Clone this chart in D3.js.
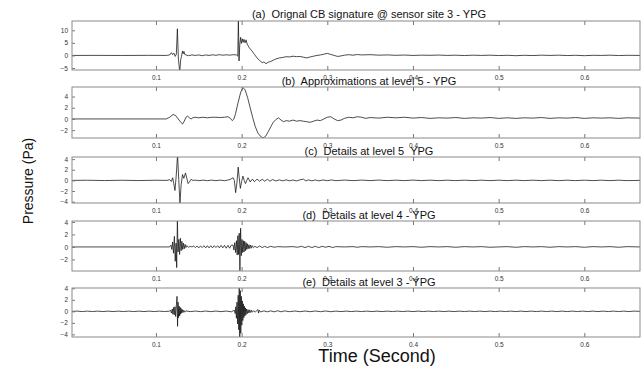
<!DOCTYPE html>
<html>
<head>
<meta charset="utf-8">
<script src="https://cdn.jsdelivr.net/npm/d3@7/dist/d3.min.js"></script>
<style>
  body { margin: 0; background: #fff; }
  svg { display: block; font-family: Arial, "Liberation Sans", sans-serif; }
</style>
</head>
<body>
<div id="chart"></div>
<script>
// ---- data ----
const titles = [
  '(a)  Orignal CB signature @ sensor site 3 - YPG',
  '(b)  Approximations at level 5 - YPG',
  '(c)  Details at level 5  YPG',
  '(d)  Details at level 4 - YPG',
  '(e)  Details at level 3 - YPG'
];
const xTicks = [0.1, 0.2, 0.3, 0.4, 0.5, 0.6];
const yTicksA = [-5, 0, 5, 10];
const yTicksB = [-2, 0, 2, 4];
const yTicksC = [-4, -2, 0, 2, 4];
const yTicksD = [-2, 0, 2, 4];
const yTicksE = [-4, -2, 0, 2, 4];

// [time (s), pressure (Pa)]
const sigA = [
  [0.002,0],[0.03,0.02],[0.06,-0.02],[0.09,0.03],[0.112,0],[0.116,0.2],[0.118,1.1],[0.1195,0.3],[0.121,0.9],
  [0.1225,-0.4],[0.1238,0.5],[0.125,10.6],[0.1262,-1.5],[0.1278,-6.6],[0.1288,-1.8],[0.1298,-0.4],[0.131,1.7],
  [0.1318,0.7],[0.1327,1.6],[0.1336,0.4],[0.135,0.2],[0.138,-0.1],[0.142,0.2],[0.146,0],[0.15,0.2],[0.154,-0.1],
  [0.158,0.2],[0.162,0],[0.166,0.25],[0.17,0.05],[0.174,0.3],[0.178,0.1],[0.182,0.25],[0.186,0.1],[0.19,0.3],
  [0.194,0.2],[0.1955,-0.3],[0.1962,14.5],[0.197,-2.2],[0.1978,4],[0.1988,7.2],[0.1998,4.8],[0.2008,6.6],
  [0.2018,5.2],[0.2028,6.4],[0.204,5],[0.2052,6.2],[0.2065,4.5],[0.209,3],[0.212,1.8],[0.215,0.4],[0.218,-1],
  [0.221,-2],[0.224,-2.9],[0.226,-2.6],[0.2285,-3.3],[0.231,-2.7],[0.234,-2.4],[0.237,-1.9],[0.24,-1.4],
  [0.244,-1],[0.248,-0.8],[0.252,-0.5],[0.256,-0.6],[0.26,-0.3],[0.264,-0.5],[0.268,-0.4],[0.272,-0.7],
  [0.276,-1],[0.28,-0.6],[0.284,-0.3],[0.288,0],[0.292,0.2],[0.296,0.5],[0.3,0.8],[0.304,0.4],[0.308,0],
  [0.312,-0.4],[0.316,-0.2],[0.32,0.1],[0.325,0.3],[0.33,0.1],[0.335,0.35],[0.34,0.2],[0.35,0.3],[0.36,0.1],
  [0.37,0.2],[0.38,0.05],[0.39,0.15],[0.4,0],[0.41,0.1],[0.42,0.05],[0.43,0.15],[0.44,0],[0.45,0.1],
  [0.46,-0.05],[0.47,0.1],[0.48,0],[0.49,0.1],[0.5,-0.05],[0.51,0.05],[0.52,-0.1],[0.53,0.05],[0.54,-0.05],
  [0.55,0.1],[0.56,0],[0.57,0.1],[0.58,-0.05],[0.59,0.05],[0.6,-0.1],[0.61,0.05],[0.62,0],[0.63,0.1],
  [0.64,-0.05],[0.65,0.05],[0.665,0]
];

const sigB = [
  [0.002,0],[0.05,0],[0.1,0],[0.112,0],[0.116,0.3],[0.12,0.8],[0.123,0.6],[0.126,0],[0.129,-0.6],[0.131,-0.9],
  [0.133,-0.4],[0.135,0.3],[0.137,0.5],[0.139,0.2],[0.141,0],[0.143,0.2],[0.146,0.3],[0.15,0.2],[0.155,0.3],
  [0.16,0.2],[0.165,0.3],[0.17,0.3],[0.175,0.25],[0.18,0.3],[0.184,0.4],[0.187,0.1],[0.189,-0.3],[0.191,0],
  [0.193,1],[0.196,3],[0.199,4.8],[0.2015,5.6],[0.204,5.2],[0.207,3.8],[0.21,2],[0.213,0.2],[0.216,-1.4],
  [0.219,-2.5],[0.222,-3.1],[0.225,-3.4],[0.228,-3.1],[0.231,-2.3],[0.234,-1.4],[0.237,-0.6],[0.24,-0.1],
  [0.243,0.2],[0.246,-0.2],[0.249,-0.5],[0.252,-0.3],[0.256,-0.4],[0.26,-0.2],[0.264,-0.4],[0.268,-0.3],
  [0.272,-0.4],[0.276,-0.5],[0.28,-0.6],[0.284,-0.4],[0.288,-0.2],[0.292,-0.3],[0.296,0],[0.3,0.3],
  [0.304,0.4],[0.308,0],[0.312,-0.3],[0.316,-0.2],[0.32,0.1],[0.325,0.3],[0.33,0.2],[0.335,0.4],[0.34,0.3],
  [0.345,0.1],[0.35,0.25],[0.36,0.15],[0.37,0.3],[0.38,0.2],[0.39,0.3],[0.4,0.15],[0.41,0.25],[0.42,0.1],
  [0.43,0.2],[0.44,0.15],[0.45,0.25],[0.46,0.1],[0.47,0.2],[0.48,0.15],[0.49,0.25],[0.5,0.1],[0.51,0.2],
  [0.52,0.1],[0.53,0.2],[0.54,0.15],[0.55,0.25],[0.56,0.1],[0.57,0.2],[0.58,0.15],[0.59,0.25],[0.6,0.1],
  [0.61,0.2],[0.62,0.15],[0.63,0.2],[0.64,0.1],[0.65,0.2],[0.665,0.15]
];

const sigC = [
  [0.002,0],[0.02,0.03],[0.04,-0.03],[0.06,0.03],[0.08,-0.03],[0.1,0.03],[0.113,0],[0.116,0.15],[0.118,-0.2],
  [0.1195,0.5],[0.1208,-0.6],[0.1222,-1.9],[0.1236,0.8],[0.1252,4.8],[0.1266,0.2],[0.128,-4.3],[0.1294,-0.8],
  [0.131,1.1],[0.1325,0.4],[0.1345,1.4],[0.136,0.4],[0.1375,-0.6],[0.139,-0.3],[0.141,0.2],[0.143,0],
  [0.146,0.05],[0.15,-0.05],[0.155,0.05],[0.16,-0.05],[0.165,0.05],[0.17,-0.05],[0.175,0.05],[0.18,-0.05],
  [0.185,0.1],[0.188,0.3],[0.19,0.5],[0.1915,0],[0.193,-2.3],[0.1945,-0.5],[0.196,2.5],[0.1972,0.5],
  [0.1985,-1.5],[0.2,-0.2],[0.2015,0.8],[0.203,0],[0.2045,-0.6],[0.206,0],[0.2075,0.5],[0.21,-0.3],
  [0.2125,0.25],[0.215,-0.25],[0.218,0.25],[0.221,-0.15],[0.224,0.2],[0.227,-0.15],[0.23,0.2],[0.233,-0.15],
  [0.236,0.15],[0.24,-0.1],[0.244,0.1],[0.248,-0.08],[0.252,0.1],[0.256,-0.08],[0.26,0.08],[0.264,-0.1],
  [0.268,0.1],[0.272,0.25],[0.275,-0.1],[0.278,0.1],[0.282,-0.08],[0.286,0.08],[0.29,-0.08],[0.295,0.08],
  [0.3,-0.05],[0.305,0.08],[0.31,-0.05],[0.32,0.06],[0.33,-0.04],[0.34,0.06],[0.35,-0.04],[0.36,0.06],
  [0.37,-0.04],[0.38,0.04],[0.39,-0.04],[0.4,0.06],[0.41,-0.04],[0.42,0.04],[0.43,-0.04],[0.44,0.04],
  [0.45,-0.04],[0.46,0.04],[0.47,-0.04],[0.48,0.04],[0.49,-0.04],[0.5,0.04],[0.51,-0.04],[0.52,0.04],
  [0.53,-0.04],[0.54,0.04],[0.55,-0.04],[0.56,0.04],[0.57,-0.04],[0.58,0.04],[0.59,-0.04],[0.6,0.04],
  [0.61,-0.04],[0.62,0.04],[0.63,-0.04],[0.64,0.04],[0.65,-0.04],[0.665,0]
];

const sigD = [
  [0.002,0],[0.116,0],[0.1175,0.3],[0.1185,-0.4],[0.1195,0.8],[0.1205,-1],[0.1215,1.7],[0.1225,-2.3],
  [0.1235,0.6],[0.1242,-3.3],[0.125,4.3],[0.1258,-0.8],[0.1267,1.2],[0.1276,-1.2],[0.1285,1.4],[0.1294,-0.6],
  [0.1303,0.9],[0.1312,-0.4],[0.1321,0.6],[0.133,-0.3],[0.134,0.4],[0.135,-0.1],[0.136,0.2],[0.138,-0.05],
  [0.14,0.1],[0.142,0],[0.144,0.15],[0.146,-0.1],[0.148,0.15],[0.15,-0.15],[0.152,0.15],[0.154,-0.1],
  [0.156,0.2],[0.158,-0.15],[0.16,0.2],[0.162,-0.15],[0.164,0.2],[0.166,-0.15],[0.168,0.2],[0.17,-0.1],
  [0.172,0.2],[0.174,-0.15],[0.176,0.25],[0.178,-0.15],[0.18,0.25],[0.182,-0.2],[0.184,0.25],[0.186,-0.2],
  [0.188,0.3],[0.19,0.3],[0.191,-0.5],[0.192,0.7],[0.193,-0.9],[0.194,1],[0.1948,-1.3],[0.1956,1.8],
  [0.1964,-1.2],[0.1972,2.2],[0.198,-3.8],[0.1988,3],[0.1996,-1.4],[0.2004,1.2],[0.2012,-0.9],[0.202,1],
  [0.2028,-0.8],[0.2036,0.9],[0.2044,-0.6],[0.2052,0.7],[0.206,-0.4],[0.2068,0.5],[0.2076,-0.3],
  [0.2085,0.35],[0.2095,-0.25],[0.2105,0.3],[0.2115,-0.2],[0.2125,0.2],[0.214,-0.1],[0.2155,0.1],
  [0.218,-0.1],[0.221,0.15],[0.224,-0.1],[0.227,0.1],[0.23,-0.1],[0.234,0.1],[0.238,-0.05],[0.242,0.05],
  [0.25,0],[0.26,0.05],[0.265,-0.05],[0.27,0.1],[0.274,-0.1],[0.278,0.1],[0.282,-0.1],[0.286,0.1],
  [0.29,-0.1],[0.294,0.1],[0.298,-0.05],[0.302,0.1],[0.306,-0.1],[0.31,0.05],[0.32,0],[0.33,0.05],
  [0.335,-0.05],[0.34,0.05],[0.35,0],[0.36,0.05],[0.37,-0.05],[0.38,0.05],[0.39,0],[0.4,0.05],[0.41,-0.05],
  [0.42,0.05],[0.43,0],[0.44,0.05],[0.45,-0.05],[0.46,0.05],[0.47,0],[0.48,0.05],[0.49,-0.05],[0.5,0],
  [0.51,0.05],[0.52,-0.05],[0.53,0.05],[0.54,0],[0.55,0.05],[0.56,-0.05],[0.57,0.05],[0.58,0],[0.59,0.05],
  [0.6,-0.05],[0.61,0.05],[0.62,0],[0.63,0.05],[0.64,-0.05],[0.65,0.05],[0.665,0]
];

const sigE = [
  [0.002,0],[0.008,0.04],[0.014,-0.04],[0.02,0.04],[0.026,-0.04],[0.032,0.04],[0.038,-0.04],[0.044,0.04],
  [0.05,-0.04],[0.056,0.04],[0.062,-0.04],[0.068,0.04],[0.074,-0.04],[0.08,0.04],[0.086,-0.04],[0.092,0.04],
  [0.098,-0.04],[0.104,0.04],[0.11,-0.04],[0.116,0.04],[0.117,0.2],[0.118,-0.3],[0.119,0.4],[0.1198,-0.5],
  [0.1206,0.7],[0.1214,-0.6],[0.1222,0.8],[0.123,-0.9],[0.1238,1],[0.1246,2.6],[0.1252,-2.6],[0.1258,1.6],
  [0.1264,-1.1],[0.127,0.9],[0.1276,-0.8],[0.1282,0.7],[0.1288,-0.5],[0.1294,0.5],[0.13,-0.3],[0.1308,0.3],
  [0.1316,-0.2],[0.1325,0.2],[0.1335,-0.15],[0.135,0.08],[0.14,-0.05],[0.146,0.05],[0.152,-0.05],[0.158,0.05],
  [0.164,-0.05],[0.17,0.05],[0.176,-0.05],[0.182,0.05],[0.188,-0.08],[0.1915,0.2],[0.1925,-0.4],[0.1932,0.8],
  [0.1939,-1.2],[0.1946,1.6],[0.1953,-2.2],[0.196,2.8],[0.1967,-3.2],[0.1972,4.3],[0.1978,-4.5],[0.1984,3.6],
  [0.199,-3.8],[0.1996,2.6],[0.2002,-2.4],[0.2008,1.8],[0.2014,-1.6],[0.202,1.3],[0.2026,-1.1],[0.2032,0.9],
  [0.2038,-0.8],[0.2044,0.6],[0.205,-0.6],[0.2058,0.4],[0.2066,-0.4],[0.2075,0.3],[0.2085,-0.3],[0.2095,0.25],
  [0.2105,-0.2],[0.2115,0.2],[0.2125,-0.15],[0.214,0.1],[0.216,-0.1],[0.219,0.3],[0.2198,-0.3],[0.2206,0.2],
  [0.222,-0.1],[0.226,0.08],[0.23,-0.08],[0.234,0.08],[0.238,-0.08],[0.242,0.1],[0.246,-0.08],[0.25,0.08],
  [0.256,-0.06],[0.262,0.06],[0.268,-0.06],[0.274,0.06],[0.28,-0.06],[0.286,0.06],[0.292,-0.06],[0.298,0.06],
  [0.304,-0.06],[0.31,0.04],[0.316,-0.04],[0.322,0.04],[0.328,-0.04],[0.334,0.04],[0.34,-0.04],[0.346,0.04],
  [0.352,-0.04],[0.358,0.04],[0.364,-0.04],[0.37,0.04],[0.376,-0.04],[0.382,0.04],[0.388,-0.04],[0.394,0.04],
  [0.4,-0.04],[0.406,0.04],[0.412,-0.04],[0.418,0.04],[0.424,-0.04],[0.43,0.04],[0.436,-0.04],[0.442,0.04],
  [0.448,-0.04],[0.454,0.04],[0.46,-0.04],[0.466,0.04],[0.472,-0.04],[0.478,0.04],[0.484,-0.04],[0.49,0.04],
  [0.496,-0.04],[0.502,0.04],[0.508,-0.04],[0.514,0.04],[0.52,-0.04],[0.526,0.04],[0.532,-0.04],[0.538,0.04],
  [0.544,-0.04],[0.55,0.04],[0.556,-0.04],[0.562,0.04],[0.568,-0.04],[0.574,0.04],[0.58,-0.04],[0.586,0.04],
  [0.592,-0.04],[0.598,0.04],[0.604,-0.04],[0.61,0.04],[0.616,-0.04],[0.622,0.04],[0.628,-0.04],[0.634,0.04],
  [0.64,-0.04],[0.646,0.04],[0.652,-0.04],[0.658,0.04],[0.665,0]
];

// ---- layout ----
const width = 641, height = 367;
const left = 72, right = 640;
const panels = [
  { title: titles[0], data: sigA, ticks: yTicksA, top: 21,  bottom: 70,  ylim: [-5.8, 13.7], titleY: 18 },
  { title: titles[1], data: sigB, ticks: yTicksB, top: 87,  bottom: 138, ylim: [-3.4, 5.7],  titleY: 85 },
  { title: titles[2], data: sigC, ticks: yTicksC, top: 157, bottom: 203, ylim: [-4.25, 4.4], titleY: 155 },
  { title: titles[3], data: sigD, ticks: yTicksD, top: 221, bottom: 271, ylim: [-3.85, 4.15], titleY: 219 },
  { title: titles[4], data: sigE, ticks: yTicksE, top: 288, bottom: 337, ylim: [-4.45, 4.05], titleY: 286 }
];

const svg = d3.select('#chart').append('svg')
  .attr('width', width)
  .attr('height', height);

const x = d3.scaleLinear().domain([0.002, 0.665]).range([left, right]);

panels.forEach((p, i) => {
  const y = d3.scaleLinear().domain(p.ylim).range([p.bottom, p.top]);
  const g = svg.append('g');

  const clipId = 'clip' + i;
  g.append('clipPath').attr('id', clipId)
    .append('rect')
    .attr('x', left).attr('y', p.top)
    .attr('width', right - left).attr('height', p.bottom - p.top);

  // signal
  const line = d3.line().x(d => x(d[0])).y(d => y(d[1]));
  g.append('path')
    .datum(p.data)
    .attr('clip-path', `url(#${clipId})`)
    .attr('d', line)
    .attr('fill', 'none')
    .attr('stroke', '#111')
    .attr('stroke-width', 0.75);

  // bottom axis (matlab style, ticks pointing in)
  const xb = g.append('g')
    .attr('transform', `translate(0,${p.bottom})`)
    .call(d3.axisBottom(x).tickValues(xTicks).tickFormat(d3.format('.1f'))
      .tickSizeInner(-4).tickSizeOuter(0).tickPadding(5));
  // top ticks, no labels
  const xt = g.append('g')
    .attr('transform', `translate(0,${p.top})`)
    .call(d3.axisTop(x).tickValues(xTicks).tickSizeInner(-4).tickSizeOuter(0).tickFormat(''));
  // left axis
  const yl = g.append('g')
    .attr('transform', `translate(${left},0)`)
    .call(d3.axisLeft(y).tickValues(p.ticks).tickSizeInner(-3).tickSizeOuter(0).tickPadding(4));

  [xb, xt, yl].forEach(ax => {
    ax.select('.domain').remove();
    ax.selectAll('line').attr('stroke', '#777');
    ax.selectAll('text')
      .attr('fill', '#333')
      .style('font-size', '6.5px')
      .style('font-family', 'Arial, "Liberation Sans", sans-serif');
  });

  // frame
  g.append('rect')
    .attr('x', left).attr('y', p.top)
    .attr('width', right - left).attr('height', p.bottom - p.top)
    .attr('fill', 'none')
    .attr('stroke', '#8a8a8a')
    .attr('stroke-width', 1);

  // title
  svg.append('text')
    .attr('x', 369)
    .attr('y', p.titleY)
    .attr('text-anchor', 'middle')
    .style('font-size', '11px')
    .style('white-space', 'pre')
    .attr('fill', '#111')
    .text(p.title);
});

// axis labels
svg.append('text')
  .attr('transform', 'translate(33,181) rotate(-90)')
  .attr('text-anchor', 'middle')
  .style('font-size', '14px')
  .attr('fill', '#111')
  .text('Pressure (Pa)');

svg.append('text')
  .attr('x', 377)
  .attr('y', 362)
  .attr('text-anchor', 'middle')
  .style('font-size', '18px')
  .attr('fill', '#111')
  .text('Time (Second)');
</script>
</body>
</html>
